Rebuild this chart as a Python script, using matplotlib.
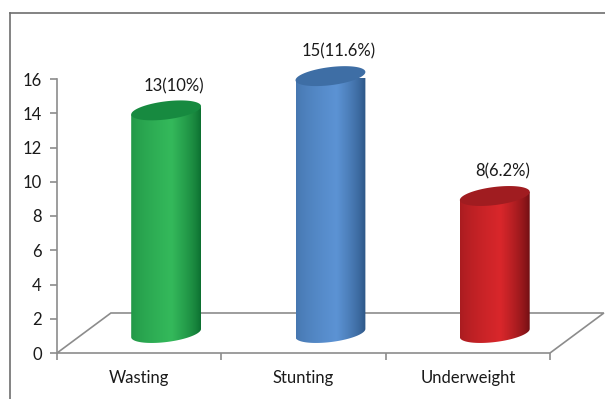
import numpy as np
import matplotlib.pyplot as plt
from matplotlib.patches import Polygon
from matplotlib.colors import to_rgb

categories = ['Wasting', 'Stunting', 'Underweight']
counts = [13, 15, 8]
labels = ['13(10%)', '15(11.6%)', '8(6.2%)']
yticks = [0, 2, 4, 6, 8, 10, 12, 14, 16]

# (dark edge, light, top) per cylinder
shades = [('#0b6d2f', '#34b95b', '#178a40'),
          ('#2a5382', '#5c93d4', '#3e6ea5'),
          ('#6c0e12', '#d9272b', '#a01c20')]

plt.rcParams['font.family'] = ['Lato', 'DejaVu Sans']

fig = plt.figure(figsize=(6.05, 3.99), dpi=100)
ax = fig.add_axes([57/605, 46/399, 493/605, 274/399])
ax.set_xlim(0, 3)
ax.set_ylim(0, 16)

# depth of the 3d floor (back edge offset), bars sit half way
depth_x, depth_y = 0.328, 2.336
mid_x, mid_y = depth_x/2, depth_y/2

floor = Polygon([(0, 0), (3, 0), (3 + depth_x, depth_y), (depth_x, depth_y)],
                closed=True, facecolor='white', edgecolor='#8c8c8c', lw=1.2,
                clip_on=False, zorder=1)
ax.add_patch(floor)

half_w = 0.2125
half_h = 0.53
tilt = 0.24
t = np.linspace(0, 2*np.pi, 200)


def ellipse_pts(cx, cy, theta):
    return np.column_stack([cx + half_w*np.cos(theta),
                            cy + half_h*np.sin(theta) + tilt*np.cos(theta)])


for i, (v, lab, (dark, light, top)) in enumerate(zip(counts, labels, shades)):
    cx = i + 0.5 + mid_x
    y0 = mid_y
    y1 = v + mid_y
    lower = ellipse_pts(cx, y0, np.linspace(np.pi, 2*np.pi, 100))
    body_pts = np.vstack([lower,
                          [[cx + half_w, y1 + tilt], [cx - half_w, y1 - tilt]]])
    body = Polygon(body_pts, closed=True, facecolor='none', edgecolor='none',
                   transform=ax.transData)
    # horizontal gradient across the cylinder
    pos = np.linspace(0, 1, 200)
    w = np.clip(1 - np.abs(pos - 0.58) / np.where(pos < 0.58, 0.58, 0.42), 0, 1) ** 0.7
    d = np.array(to_rgb(dark))
    l = np.array(to_rgb(light))
    leftdark = d * 0.45 + l * 0.55
    base = np.where((pos < 0.58)[:, None], leftdark, d)
    grad = base + (l - base) * w[:, None]
    img = ax.imshow(grad[None, :, :], extent=(cx - half_w, cx + half_w, y0 - half_h - tilt, y1 + tilt),
                    aspect='auto', zorder=3, interpolation='bilinear')
    img.set_clip_path(body)
    img.set_clip_box(None)
    topc = Polygon(ellipse_pts(cx, y1, t), closed=True, facecolor=top,
                   edgecolor='none', clip_on=False, zorder=4)
    ax.add_patch(topc)
    ax.annotate(lab, (cx + 0.05, y1 + half_h), xytext=(0, 11), textcoords='offset points',
                ha='center', va='center', fontsize=12, color='#1a1a1a',
                annotation_clip=False)

ax.set_xlim(0, 3)
ax.set_ylim(0, 16)

for s in ['top', 'right', 'bottom']:
    ax.spines[s].set_visible(False)
ax.spines['left'].set_color('#8c8c8c')
ax.spines['left'].set_linewidth(1.2)

ax.set_yticks(yticks)
ax.set_yticklabels([str(y) for y in yticks])
ax.set_xticks([0, 1, 2, 3])
ax.set_xticklabels([])
ax.set_xticks([0.5, 1.5, 2.5], minor=True)
ax.set_xticklabels(categories, minor=True)
ax.tick_params(axis='y', direction='out', length=5, color='#8c8c8c', width=1.2,
               labelsize=12, labelcolor='#1a1a1a', pad=6)
ax.tick_params(axis='x', which='major', direction='out', length=5, color='#8c8c8c', width=1.2)
ax.tick_params(axis='x', which='minor', length=0, pad=12, labelsize=12, labelcolor='#1a1a1a')

# outer chart frame
fig.add_artist(plt.Line2D([10/605, 10/605], [0, 386/399], color='#6e6e6e', lw=1.2))
fig.add_artist(plt.Line2D([10/605, 1], [386/399, 386/399], color='#6e6e6e', lw=1.2))

fig.savefig('out.png', dpi=100)
